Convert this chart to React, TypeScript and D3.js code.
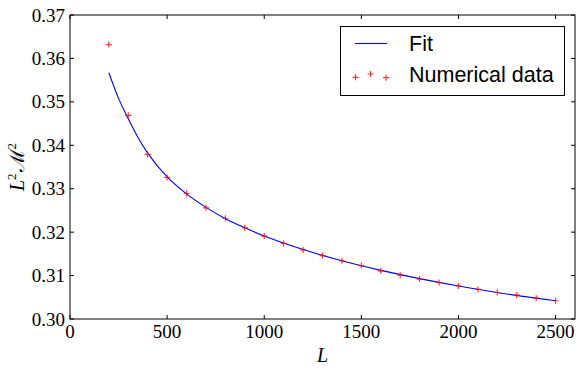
import React from 'react';
import * as d3 from 'd3';

// numerical data (red crosses)
const dataL = [200, 300, 400, 500, 600, 700, 800, 900, 1000, 1100, 1200, 1300,
  1400, 1500, 1600, 1700, 1800, 1900, 2000, 2100, 2200, 2300, 2400, 2500];
const dataValues = [0.3632, 0.3469, 0.3379, 0.3326, 0.3289, 0.3256, 0.3232, 0.3210,
  0.3191, 0.3174, 0.3159, 0.3146, 0.3134, 0.3123, 0.3111, 0.3101, 0.3092, 0.3084,
  0.3076, 0.3068, 0.3061, 0.3055, 0.3048, 0.3042];

// fit curve (blue line)
const fitL = [200, 250, 300, 350, 400, 500, 600, 700, 800, 900, 1000, 1200,
  1400, 1600, 1800, 2000, 2200, 2400, 2500];
const fitValues = [0.3567, 0.3508, 0.3461, 0.3418, 0.3382, 0.3327, 0.3288, 0.3257,
  0.3231, 0.3210, 0.3191, 0.3160, 0.3134, 0.3112, 0.3093, 0.3076, 0.3061, 0.3048, 0.3042];

const xTicks = [0, 500, 1000, 1500, 2000, 2500];
const yTicks = [0.30, 0.31, 0.32, 0.33, 0.34, 0.35, 0.36, 0.37];
const legendLabels = ['Fit', 'Numerical data'];

class App extends React.Component {
  svgRef = React.createRef<SVGSVGElement>();

  componentDidMount() {
    this.drawChart();
  }

  componentDidUpdate() {
    this.drawChart();
  }

  drawChart() {
    const width = 582;
    const height = 374;
    const left = 70;
    const right = 575;
    const top = 15;
    const bottom = 319;
    const serif = '"Liberation Serif", "DejaVu Serif", serif';

    const svg = d3.select(this.svgRef.current)
      .attr('width', width)
      .attr('height', height);

    svg.selectAll('*').remove();

    svg.append('rect')
      .attr('width', width)
      .attr('height', height)
      .attr('fill', '#fff');

    const x = d3.scaleLinear().domain([0, 2600]).range([left, right]);
    const y = d3.scaleLinear().domain([0.30, 0.37]).range([bottom, top]);

    // fit line
    const line = d3.line<number>()
      .x((d, i) => x(fitL[i]))
      .y((d) => y(d))
      .curve(d3.curveMonotoneX);

    svg.append('path')
      .attr('d', line(fitValues))
      .attr('fill', 'none')
      .attr('stroke', '#0000ff')
      .attr('stroke-width', 1.1);

    // crosses
    const cross = (g: any, cx: number, cy: number, s: number) => {
      g.append('path')
        .attr('d', `M${cx - s},${cy}H${cx + s}M${cx},${cy - s}V${cy + s}`)
        .attr('stroke', '#ff0000')
        .attr('stroke-opacity', 0.8)
        .attr('stroke-width', 1.2)
        .attr('fill', 'none');
    };

    const pts = svg.append('g');
    dataValues.forEach((v, i) => cross(pts, x(dataL[i]), y(v), 3));

    // frame
    svg.append('rect')
      .attr('x', left)
      .attr('y', top)
      .attr('width', right - left)
      .attr('height', bottom - top)
      .attr('fill', 'none')
      .attr('stroke', '#000')
      .attr('stroke-width', 1);

    // ticks (inward, on all sides)
    const tl = 4;
    xTicks.forEach((t) => {
      const px = x(t);
      svg.append('line').attr('x1', px).attr('x2', px).attr('y1', bottom).attr('y2', bottom - tl).attr('stroke', '#000');
      svg.append('line').attr('x1', px).attr('x2', px).attr('y1', top).attr('y2', top + tl).attr('stroke', '#000');
      svg.append('text')
        .attr('x', px)
        .attr('y', 338)
        .attr('text-anchor', 'middle')
        .attr('font-family', serif)
        .attr('font-size', '19px')
        .text(t);
    });

    yTicks.forEach((t) => {
      const py = y(t);
      svg.append('line').attr('x1', left).attr('x2', left + tl).attr('y1', py).attr('y2', py).attr('stroke', '#000');
      svg.append('line').attr('x1', right).attr('x2', right - tl).attr('y1', py).attr('y2', py).attr('stroke', '#000');
      svg.append('text')
        .attr('x', 65)
        .attr('y', py + 6.5)
        .attr('text-anchor', 'end')
        .attr('font-family', serif)
        .attr('font-size', '19px')
        .text(t.toFixed(2));
    });

    // axis labels
    svg.append('text')
      .attr('x', (left + right) / 2)
      .attr('y', 362)
      .attr('text-anchor', 'middle')
      .attr('font-family', serif)
      .attr('font-style', 'italic')
      .attr('font-size', '20px')
      .text('L');

    const yl = svg.append('text')
      .attr('transform', `translate(24, ${(top + bottom) / 2}) rotate(-90)`)
      .attr('text-anchor', 'middle')
      .attr('font-family', serif)
      .attr('font-size', '20px');
    yl.append('tspan').attr('font-style', 'italic').text('L');
    yl.append('tspan').attr('font-size', '13px').attr('dy', -8).text('2');
    yl.append('tspan').attr('dy', 8).attr('dx', 1).text('\u2133');
    yl.append('tspan').attr('font-size', '13px').attr('dy', -8).text('2');

    // legend
    const lg = svg.append('g');
    lg.append('rect')
      .attr('x', 340.5)
      .attr('y', 26.5)
      .attr('width', 224)
      .attr('height', 69)
      .attr('fill', '#fff')
      .attr('stroke', '#000')
      .attr('stroke-width', 1);
    lg.append('line')
      .attr('x1', 355).attr('x2', 387)
      .attr('y1', 43.5).attr('y2', 43.5)
      .attr('stroke', '#0000ff')
      .attr('stroke-width', 1.1);
    [[355.5, 77.3], [370.5, 74], [386, 77.7]].forEach(([cx, cy]) => cross(lg, cx, cy, 3));
    legendLabels.forEach((label, i) => {
      lg.append('text')
        .attr('x', 409)
        .attr('y', 51 + i * 31)
        .attr('font-family', '"Liberation Sans", Arial, sans-serif')
        .attr('font-size', '21.5px')
        .text(label);
    });
  }

  render() {
    return (
      <svg ref={this.svgRef} style={{ position: 'absolute', left: 0, top: 0 }} />
    );
  }
}

export default App;
